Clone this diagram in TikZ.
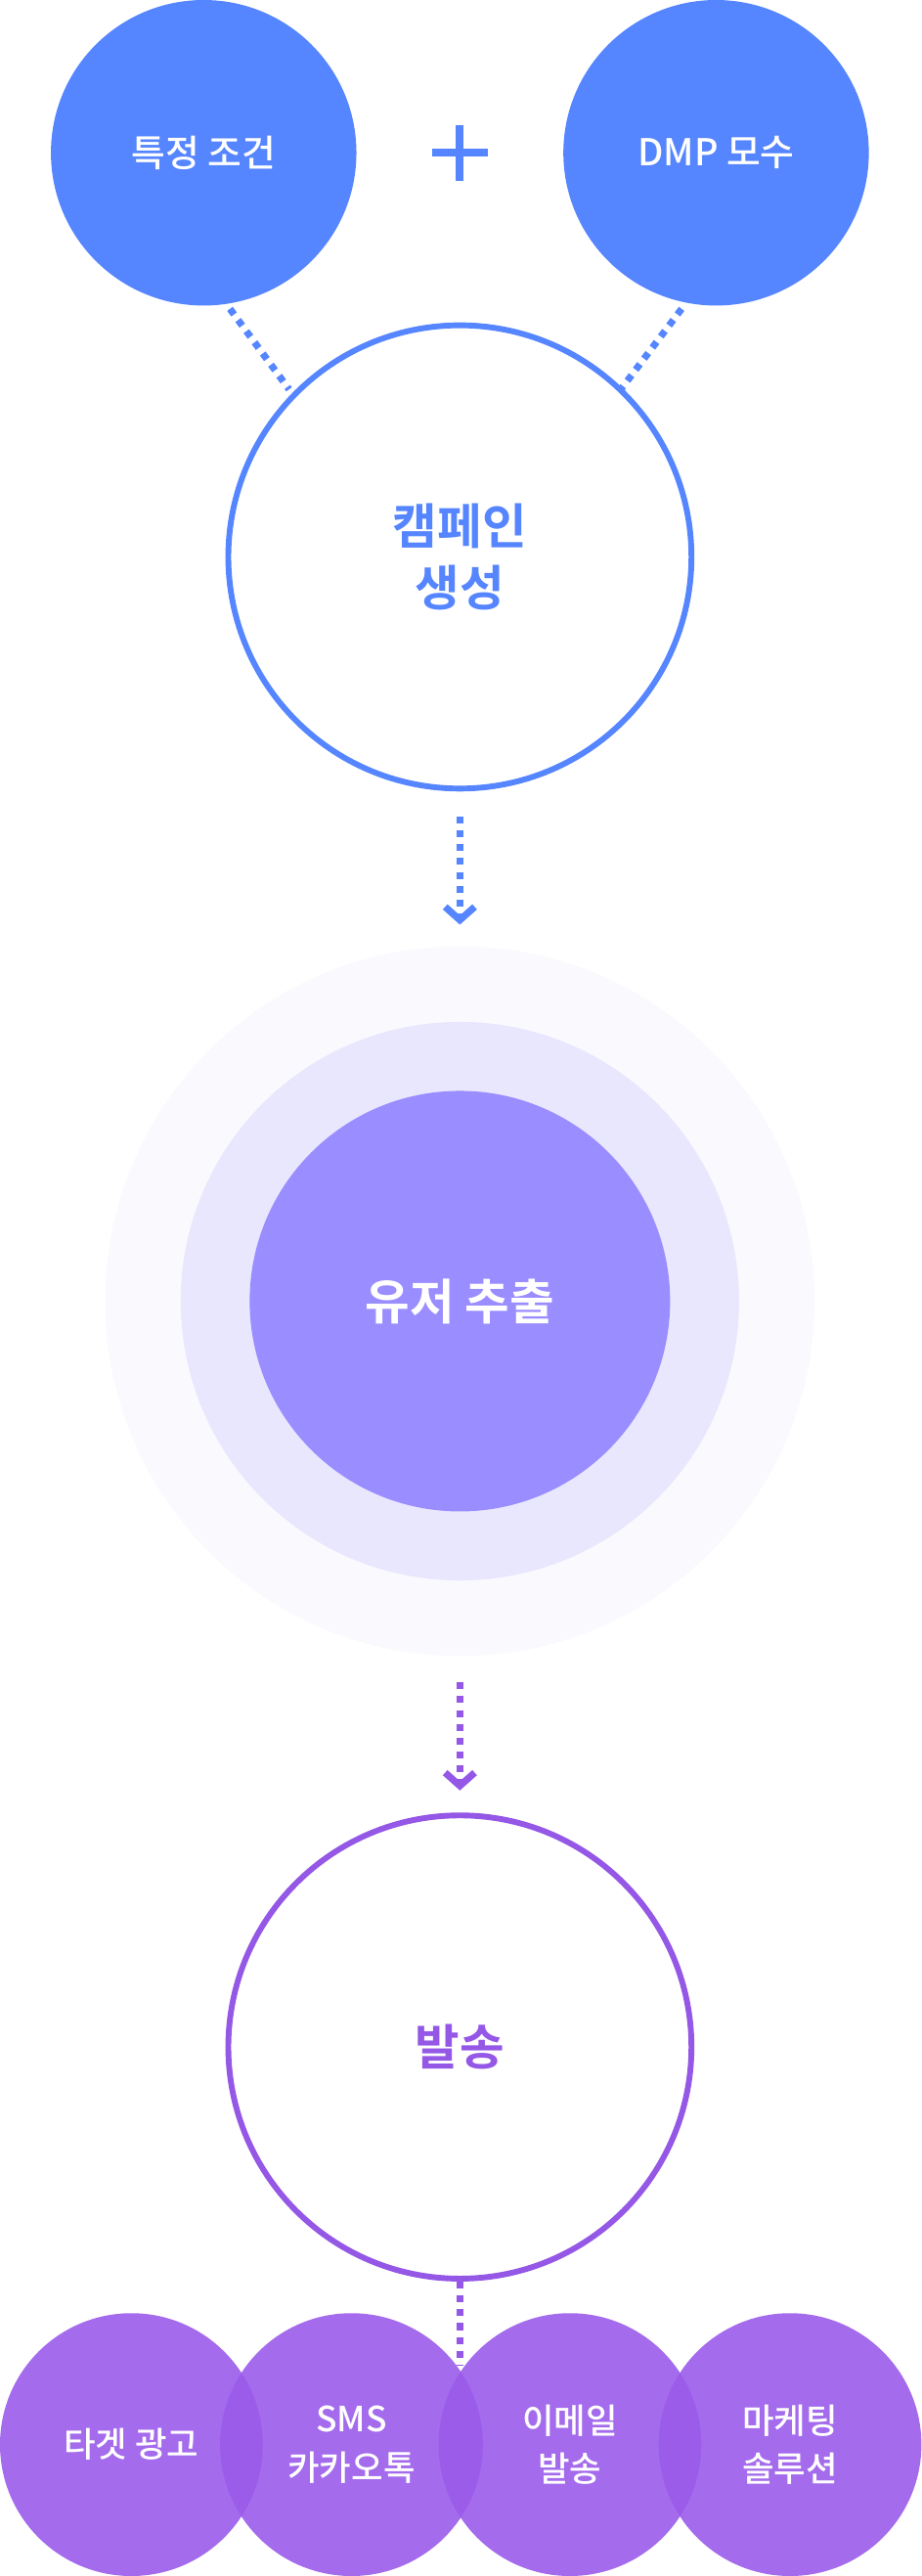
\documentclass[tikz,border=0pt]{standalone}
\usepackage{fontspec}
\setmainfont{Noto Sans CJK KR Medium}
\newfontfamily\krbold{Noto Sans CJK KR Bold}
\definecolor{cblue}{HTML}{5585FF}
\definecolor{cpurp}{HTML}{9457E6}
\definecolor{cfill}{HTML}{9A5BEA}
\definecolor{cinner}{HTML}{9A8DFF}
\definecolor{cmid}{HTML}{E9E7FD}
\definecolor{couter}{HTML}{FAFAFE}
\tikzset{
 x=0.05cm,y=-0.05cm,
 topc/.style={circle,fill=cblue,minimum size=9.3cm,inner sep=0,text=white,font=\fontsize{32}{38}\selectfont},
 ringc/.style={circle,draw=#1,line width=5pt,fill=white,minimum size=14.1cm,inner sep=0,align=center,text=#1,font=\krbold\fontsize{42}{54}\selectfont},
 botc/.style={circle,fill=cfill,fill opacity=0.9,text opacity=1,minimum size=8cm,inner sep=0,text=white,align=center,font=\fontsize{30}{42}\selectfont},
 dots/.style={draw=#1,line width=6pt,dash pattern=on 6pt off 6pt},
 chev/.style={draw=#1,line width=6pt}
}
\begin{document}
\begin{tikzpicture}
\useasboundingbox (0,0) rectangle (561,1568);
\node[topc] (a) at (124,93) {특정 조건};
\node[topc] (b) at (436,93) {DMP 모수};
\node (plus) at (280,93) {};
\draw[cblue,line width=7pt] (263,93) -- (297,93) (280,76) -- (280,110);
\coordinate (a1) at (140,188); \coordinate (a2) at (176,237);
\coordinate (b1) at (415,188); \coordinate (b2) at (378,237);
\draw[dots=cblue] (a1) -- (a2);
\draw[dots=cblue] (b1) -- (b2);
\node[ringc=cblue] (c) at (280,339) {캠페인\\생성};
\coordinate (c1) at (280,497); \coordinate (c2) at (280,560);
\draw[dots=cblue] (c1) -- (c2);
\draw[chev=cblue] (271,552) -- (280,560) -- (289,552);
\fill[couter] (280,792) circle (216);
\fill[cmid] (280,792) circle (170);
\node[circle,fill=cinner,minimum size=12.8cm,inner sep=0,text=white,font=\krbold\fontsize{42}{54}\selectfont] (u) at (280,792) {유저 추출};
\coordinate (u1) at (280,1024); \coordinate (u2) at (280,1087);
\draw[dots=cpurp] (u1) -- (u2);
\draw[chev=cpurp] (271,1079) -- (280,1087) -- (289,1079);
\coordinate (s2) at (280,1440);
\node[ringc=cpurp] (s) at (280,1246) {발송};
\draw[dots=cpurp] (s.south) -- (s2);
\node[botc] (d1) at (80,1488) {타겟 광고};
\node[botc] (d2) at (214,1488) {SMS\\카카오톡};
\node[botc] (d3) at (347,1488) {이메일\\발송};
\node[botc] (d4) at (481,1488) {마케팅\\솔루션};
\end{tikzpicture}
\end{document}
